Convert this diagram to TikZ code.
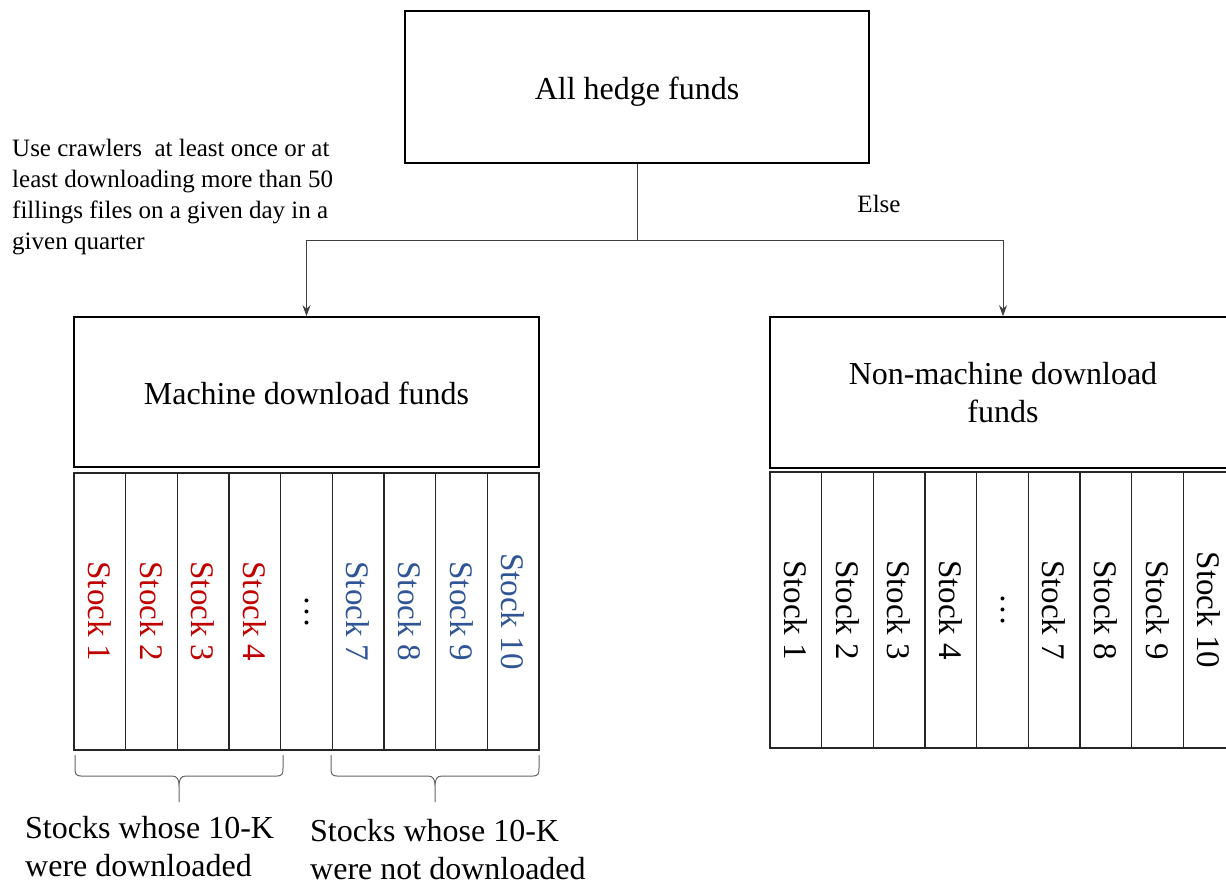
\documentclass[tikz,border=0pt]{standalone}
\usepackage{fontspec}
\setmainfont{Liberation Serif}
\usetikzlibrary{arrows.meta}
\definecolor{sred}{HTML}{C00000}
\definecolor{sblue}{HTML}{2F5597}
\begin{document}
\begin{tikzpicture}[x=1pt,y=-1pt,
  box/.style={draw=black, line width=1.6pt, minimum height=151pt, inner sep=0pt,
    font=\fontsize{32}{38}\selectfont, align=center},
  cell/.style={draw=black!85, line width=1.3pt, minimum width=51.67pt, minimum height=277pt,
    inner sep=0pt, font=\fontsize{33}{38}\selectfont},
  link/.style={line width=0.9pt, draw=black!75},
  conn/.style={link, -{Stealth[length=11pt,width=8pt]}},
  brc/.style={draw=black!60, line width=1pt},
  note/.style={font=\fontsize{25}{31}\selectfont, align=left, inner sep=0pt},
  lower/.style={font=\fontsize{32}{38}\selectfont, align=left, inner sep=0pt}]
\useasboundingbox (0,0) rectangle (1226,884);
\clip (0,0) rectangle (1226,884);

\node[box, minimum width=464pt, minimum height=152pt] (top) at (637,87) {\raisebox{-5pt}[\height][\depth]{All hedge funds}};
\node[box, minimum width=465pt, minimum height=150pt] (mach) at (306.5,392) {\raisebox{-1pt}[\height][\depth]{Machine download funds}};
\node[box, minimum width=466pt] (nonm) at (1003,392.5) {Non-machine download\\funds};

\coordinate (j) at (637,240);
\draw[link] (top.south) -- (j);
\draw[conn] (j) -| (mach.north);
\draw[conn] (j) -| (nonm.north);

\node[note, anchor=north west] (crit) at (12,139) {Use crawlers~ at least once or at\\least downloading more than 50\\fillings files on a given day in a\\given quarter};
\node[note] (else) at (879,204) {Else};

\foreach \i/\t/\c in {1/Stock 1/sred, 2/Stock 2/sred, 3/Stock 3/sred, 4/Stock 4/sred,
  5/…/black, 6/Stock 7/sblue, 7/Stock 8/sblue, 8/Stock 9/sblue, 9/Stock 10/sblue}{
  \node[cell, text=\c] (m\i) at ({74+51.67*(\i-0.5)},611.5) {\rotatebox{-90}{\t}};
}
\foreach \i/\t in {1/Stock 1, 2/Stock 2, 3/Stock 3, 4/Stock 4,
  5/…, 6/Stock 7, 7/Stock 8, 8/Stock 9, 9/Stock 10}{
  \node[cell, minimum height=276pt] (n\i) at ({770+51.67*(\i-0.5)},610) {\rotatebox{-90}{\t}};
}

% braces
\draw[brc] (75,755) -- (75,768) .. controls (75,774) and (76,776) .. (81,776) -- (172,776)
  .. controls (177,776) and (179,779) .. (179,786) -- (179,802)
  (179,786) .. controls (179,779) and (181,776) .. (186,776) -- (277,776)
  .. controls (282,776) and (283,774) .. (283,768) -- (283,755);
\draw[brc] (331,755) -- (331,768) .. controls (331,774) and (332,776) .. (337,776) -- (428,776)
  .. controls (433,776) and (435,779) .. (435,786) -- (435,802)
  (435,786) .. controls (435,779) and (437,776) .. (442,776) -- (533,776)
  .. controls (538,776) and (539,774) .. (539,768) -- (539,755);

\node[lower, anchor=north west] (dl) at (25,816) {Stocks whose 10-K\\were downloaded};
\node[lower, anchor=north west] (ndl) at (310,819) {Stocks whose 10-K\\were not downloaded};
\end{tikzpicture}
\end{document}
